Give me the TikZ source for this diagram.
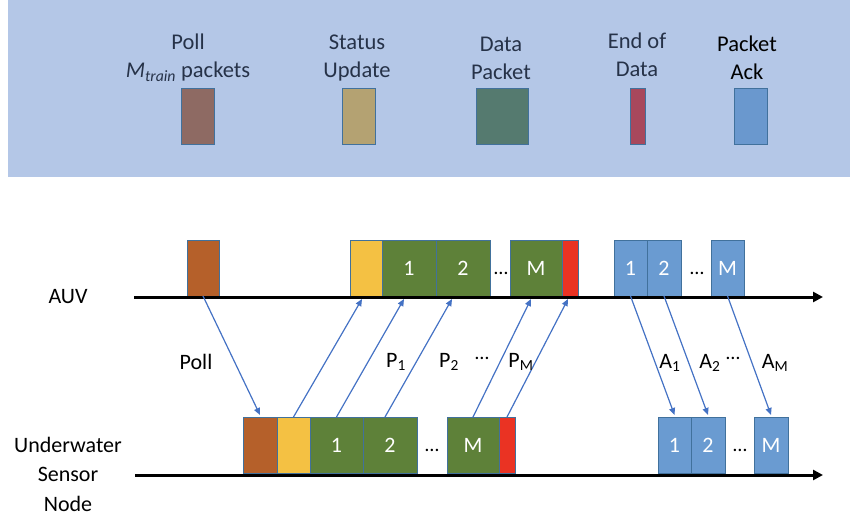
\documentclass[tikz,border=0pt]{standalone}
\usepackage{fontspec}
\setmainfont{Carlito}
\usetikzlibrary{arrows.meta,calc}
\definecolor{panelbg}{HTML}{B4C7E7}
\definecolor{legtxt}{HTML}{263248}
\definecolor{lgpoll}{HTML}{8E6A63}
\definecolor{lgstat}{HTML}{B4A272}
\definecolor{lgdata}{HTML}{557A6F}
\definecolor{lgend}{HTML}{A8485C}
\definecolor{lgack}{HTML}{6A98CE}
\definecolor{cpoll}{HTML}{B5602A}
\definecolor{cstat}{HTML}{F4C143}
\definecolor{cdata}{HTML}{5E8139}
\definecolor{cend}{HTML}{EA3323}
\definecolor{cack}{HTML}{6A9BD1}
\definecolor{pkline}{HTML}{41719C}
\definecolor{sigblue}{HTML}{4472C4}
\tikzset{
  legbox/.style={draw=pkline, line width=0.8pt, inner sep=0pt, outer sep=0pt, minimum height=56pt, anchor=north west},
  legtext/.style={align=center, text=legtxt, font=\fontsize{22.5}{28}\selectfont, inner sep=0pt},
  pk/.style={draw=pkline, line width=0.9pt, inner sep=0pt, outer sep=0pt, minimum height=56pt, anchor=south west, text=white, font=\fontsize{22}{26}\selectfont},
  axisline/.style={line width=3pt, -{Triangle[length=10pt,width=10pt]}},
  sig/.style={draw=sigblue, line width=1.2pt, -{Triangle[length=7pt,width=6pt]}},
  lbl/.style={font=\fontsize{22}{29.5}\selectfont, align=center, inner sep=0pt},
  dotsl/.style={font=\fontsize{20}{24}\selectfont, inner sep=0pt}
}
\begin{document}
\begin{tikzpicture}[x=1pt,y=-1pt]
\useasboundingbox (0,0) rectangle (850,518);
% legend panel
\fill[panelbg] (8,0) rectangle (850,177);
\node[legbox, fill=lgpoll, minimum width=33pt] (lpoll) at (181,88) {};
\node[legbox, fill=lgstat, minimum width=33pt] (lstat) at (342,88) {};
\node[legbox, fill=lgdata, minimum width=52pt] (ldata) at (476,88) {};
\node[legbox, fill=lgend, minimum width=15pt] (lend) at (630,88) {};
\node[legbox, fill=lgack, minimum width=33pt] (lack) at (734,88) {};
\node[legtext] (tpoll) at (188,58) {Poll\\$\mathit{M}_{\mathit{train}}$ packets};
\node[legtext] (tstat) at (357,58) {Status\\Update};
\node[legtext] (tdata) at (501,58) {Data\\Packet};
\node[legtext] (tend) at (637,55) {End of\\Data};
\node[legtext, text=black] (tack) at (747,58) {Packet\\Ack};
% AUV packets
\node[pk, fill=cpoll, minimum width=32pt] (apoll) at (187,296) {};
\node[pk, fill=cstat, minimum width=32pt] (astat) at (350,296) {};
\node[pk, fill=cdata, minimum width=54pt] (ad1) at (382,296) {1};
\node[pk, fill=cdata, minimum width=54pt] (ad2) at (436,296) {2};
\node[pk, fill=cdata, minimum width=52pt] (adM) at (510,296) {M};
\node[pk, fill=cend, minimum width=16pt] (aend) at (562,296) {};
\node[pk, fill=cack, minimum width=33pt] (aa1) at (614,296) {1};
\node[pk, fill=cack, minimum width=34pt] (aa2) at (647,296) {2};
\node[pk, fill=cack, minimum width=33pt] (aaM) at (711,296) {M};
\node[dotsl] (adots1) at (501,273) {…};
\node[dotsl] (adots2) at (697,273) {…};
% sensor packets
\node[pk, fill=cpoll, minimum width=34pt] (upoll) at (243,473) {};
\node[pk, fill=cstat, minimum width=33pt] (ustat) at (277,473) {};
\node[pk, fill=cdata, minimum width=53pt] (ud1) at (310,473) {1};
\node[pk, fill=cdata, minimum width=54pt] (ud2) at (363,473) {2};
\node[pk, fill=cdata, minimum width=52pt] (udM) at (447,473) {M};
\node[pk, fill=cend, minimum width=16pt] (uend) at (499,473) {};
\node[pk, fill=cack, minimum width=33pt] (ua1) at (658,473) {1};
\node[pk, fill=cack, minimum width=34pt] (ua2) at (691,473) {2};
\node[pk, fill=cack, minimum width=34pt] (uaM) at (754,473) {M};
\node[dotsl] (udots1) at (432,450) {…};
\node[dotsl] (udots2) at (740,450) {…};
% axes
\coordinate (auvS) at (134,297);
\coordinate (auvE) at (823,297);
\coordinate (uwS) at (135,475);
\coordinate (uwE) at (823,475);
\draw[axisline] (auvS) -- (auvE);
\draw[axisline] (uwS) -- (uwE);
\node[lbl] (auv) at (68,297) {AUV};
\node[lbl] (uwsn) at (68,474) {Underwater\\Sensor\\Node};
% signals
\draw[sig] (apoll.south) -- ([yshift=2pt]upoll.north);
\draw[sig] (ustat.north) -- ([xshift=-4pt,yshift=-3pt]astat.south);
\draw[sig] (ud1.north) -- ([xshift=-5pt,yshift=-3pt]ad1.south);
\draw[sig] ([xshift=-5pt]ud2.north) -- ([xshift=-11pt,yshift=-3pt]ad2.south);
\draw[sig] (udM.north) -- ([xshift=-5pt,yshift=-3pt]adM.south);
\draw[sig] (uend.north) -- ([xshift=-2pt,yshift=-3pt]aend.south);
\draw[sig] (aa1.south) -- ([yshift=2pt]ua1.north);
\draw[sig] (aa2.south) -- ([yshift=2pt]ua2.north);
\draw[sig] (aaM.south) -- ([yshift=2pt]uaM.north);
% signal labels
\node[lbl] (lpollsig) at (196,362) {Poll};
\node[lbl] (lp1) at (396,362) {P\textsubscript{1}};
\node[lbl] (lp2) at (449,362) {P\textsubscript{2}};
\node[dotsl] (ldots1) at (482,358) {…};
\node[lbl] (lpm) at (521,362) {P\textsubscript{M}};
\node[lbl] (la1) at (670,363) {A\textsubscript{1}};
\node[lbl] (la2) at (710,363) {A\textsubscript{2}};
\node[dotsl] (ldots2) at (733,358) {…};
\node[lbl] (lam) at (775,363) {A\textsubscript{M}};
\end{tikzpicture}
\end{document}
